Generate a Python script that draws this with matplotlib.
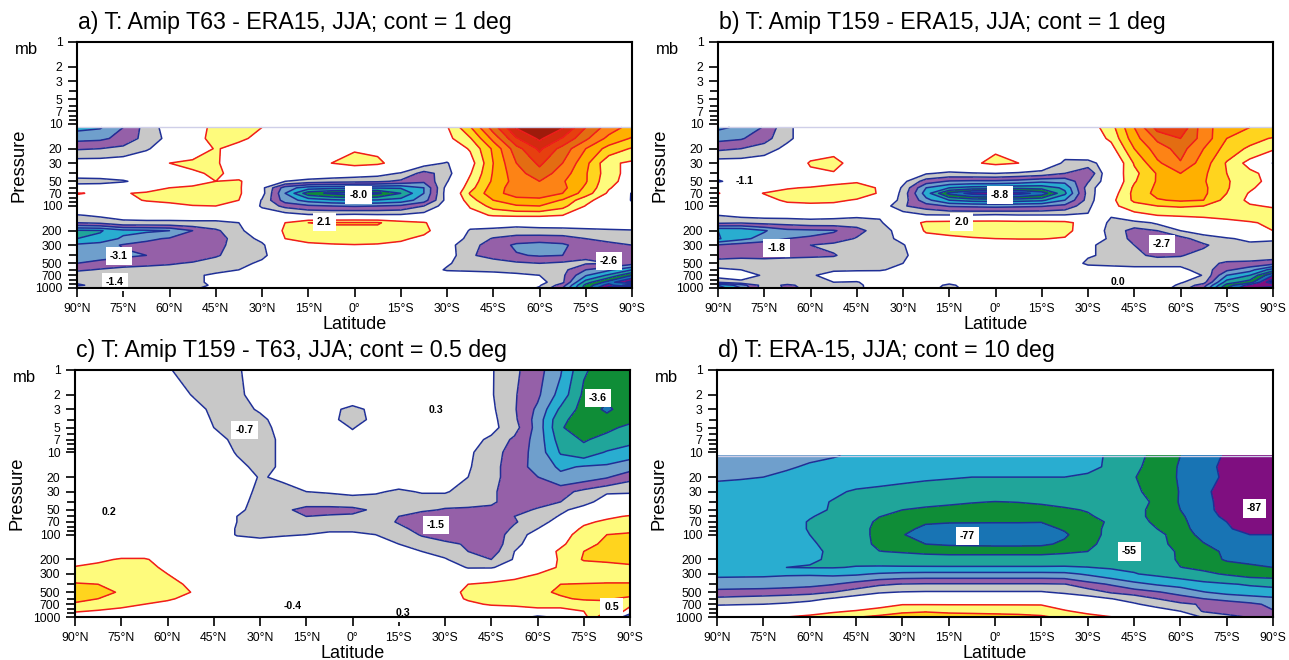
import matplotlib
matplotlib.use('Agg')
import matplotlib.pyplot as plt
from matplotlib.ticker import FixedLocator, NullFormatter
import numpy as np

plt.rcParams['font.family'] = ['Liberation Sans', 'DejaVu Sans']

W, H = 1289, 660

lats = [90, 82.5, 75, 67.5, 60, 52.5, 45, 37.5, 30, 22.5, 15, 7.5, 0, -7.5, -15, -22.5, -30, -37.5, -45, -52.5, -60, -67.5, -75, -82.5, -90]
lat_ticks = [90, 75, 60, 45, 30, 15, 0, -15, -30, -45, -60, -75, -90]
lat_labels = ['90°N', '75°N', '60°N', '45°N', '30°N', '15°N', '0°', '15°S', '30°S', '45°S', '60°S', '75°S', '90°S']
p_ticks = [1, 2, 3, 5, 7, 10, 20, 30, 50, 70, 100, 200, 300, 500, 700, 1000]
p_minor = [4, 6, 8, 9, 40, 60, 80, 90, 400, 600, 800, 900]

p_ab = [11, 15, 20, 30, 40, 50, 60, 70, 85, 100, 130, 160, 200, 250, 300, 400, 500, 600, 700, 850, 925, 1000]
p_c = [1, 2, 3, 4, 5, 7, 10, 15, 20, 30, 40, 50, 60, 70, 85, 100, 130, 160, 200, 250, 300, 400, 500, 600, 700, 850, 1000]
p_d = [11, 15, 20, 30, 40, 50, 60, 70, 85, 100, 130, 160, 200, 250, 300, 400, 500, 600, 700, 850, 1000]

t_a = [
    [-4.3, -4.1, -3.0, -1.6, -0.5, 0.3, 1.4, 1.5, 1.0, 0.5, 0.3, 0.3, 0.3, 0.3, 0.3, 0.4, 0.9, 2.9, 5.5, 8.1, 8.6, 8.1, 6.0, 4.5, 3.6],
    [-3.3, -3.2, -2.7, -1.6, -0.7, 0.4, 1.5, 1.2, 0.7, 0.4, 0.3, 0.3, 0.3, 0.3, 0.3, 0.4, 0.7, 1.9, 4.3, 6.9, 8.2, 6.9, 5.2, 3.7, 2.9],
    [-2.1, -2.0, -1.7, -1.1, -0.5, 0.2, 1.1, 0.6, 0.4, 0.3, 0.3, 0.5, 0.9, 0.8, 0.4, 0.2, 0.2, 1.1, 3.2, 5.6, 7.2, 5.6, 4.0, 2.6, 1.9],
    [-0.4, -0.4, -0.3, -0.2, 1.0, 1.3, 1.1, 0.5, 0.3, 0.2, 0.2, 1.0, 1.4, 1.2, 0.5, -0.5, -1.1, 0.5, 3.0, 5.0, 6.2, 5.0, 3.3, 1.2, 0.8],
    [-0.6, -0.5, -0.4, -0.2, 0.2, 0.8, 1.2, 0.6, 0.2, 0.1, 0.0, -0.2, -0.4, -0.6, -1.1, -2.4, -1.5, 0.9, 3.1, 4.6, 5.6, 4.5, 3.1, 1.4, 0.6],
    [-1.3, -1.3, -1.1, -0.6, -0.2, 0.3, 1.0, 1.1, 0.3, -1.0, -1.4, -1.6, -1.7, -1.8, -2.2, -2.8, -1.1, 1.3, 3.2, 4.4, 5.0, 4.1, 3.1, 1.2, 0.7],
    [-0.5, -0.4, -0.1, 0.3, 1.0, 1.3, 1.4, 1.2, -0.7, -3.5, -4.5, -4.7, -4.8, -4.9, -4.9, -4.0, -0.6, 1.6, 3.5, 4.5, 4.9, 4.3, 2.8, 1.1, 0.2],
    [1.1, 0.8, 0.9, 1.2, 1.5, 1.6, 1.5, 1.2, -0.6, -4.0, -6.6, -7.2, -7.6, -7.2, -6.0, -4.0, -0.5, 2.1, 3.6, 4.5, 4.6, 4.0, 2.5, 0.8, -1.1],
    [0.4, 0.3, 0.6, 1.1, 1.3, 1.4, 1.3, 1.0, -1.1, -3.5, -4.4, -4.8, -5.0, -4.9, -4.6, -3.5, -0.6, 1.6, 3.0, 3.6, 3.7, 2.9, 1.3, 0.4, -1.1],
    [0.3, 0.2, 0.2, 0.3, 0.6, 0.95, 1.0, 0.8, -1.2, -2.3, -2.8, -3.0, -3.1, -3.0, -2.8, -2.0, -0.4, 1.1, 2.4, 2.9, 3.0, 2.3, 0.95, 0.3, -0.7],
    [-1.1, -0.8, -0.7, -0.6, -0.6, -0.5, -0.5, -0.3, 0.0, -0.4, -0.8, -0.8, -0.7, -0.8, -0.8, -0.5, 0.0, 0.6, 1.1, 1.2, 1.2, 1.0, 0.5, 0.1, 0.0],
    [-2.0, -1.8, -1.2, -1.2, -1.2, -1.2, -1.2, -1.0, -0.2, 1.0, 2.0, 2.1, 2.1, 2.1, 1.5, 1.1, 0.2, -0.6, -0.6, -0.5, -0.4, -0.3, -0.2, -0.1, -0.1],
    [-5.2, -5.1, -4.3, -4.2, -4.0, -3.0, -2.2, -1.2, -0.3, 1.2, 1.6, 1.7, 1.7, 1.7, 1.6, 1.3, 0.2, -1.1, -1.2, -1.5, -1.4, -1.4, -1.3, -1.2, -1.1],
    [-5.0, -4.7, -3.8, -3.2, -2.9, -2.6, -2.4, -1.6, -0.7, 1.0, 1.3, 1.4, 1.5, 1.4, 1.2, 0.7, -0.5, -1.2, -2.1, -2.4, -2.5, -2.4, -2.0, -1.8, -1.7],
    [-3.8, -3.5, -2.9, -2.7, -2.6, -2.6, -2.3, -1.6, -1.2, 0.5, 0.8, 0.9, 0.95, 0.9, 0.7, 0.2, -0.6, -1.7, -2.4, -3.2, -3.4, -3.2, -2.4, -2.2, -2.0],
    [-3.5, -3.4, -3.2, -3.0, -2.7, -2.5, -2.1, -1.6, -1.2, -0.3, 0.2, 0.2, 0.2, 0.2, 0.2, 0.0, -0.4, -1.9, -2.3, -2.9, -3.1, -3.0, -2.1, -2.1, -2.1],
    [-3.0, -2.7, -2.4, -2.2, -2.1, -1.9, -1.6, -1.3, -0.8, -0.2, 0.1, 0.1, 0.1, 0.1, 0.1, -0.3, -0.9, -1.4, -1.6, -1.8, -2.0, -1.8, -1.9, -2.0, -2.6],
    [-2.2, -1.9, -1.7, -1.7, -1.6, -1.5, -1.3, -1.0, -0.6, -0.1, 0.1, 0.1, 0.1, 0.1, 0.1, -0.5, -1.1, -1.2, -1.3, -1.5, -1.6, -1.7, -3.0, -3.8, -5.0],
    [-1.3, -1.3, -1.3, -1.3, -1.3, -1.2, -0.8, -0.5, -0.3, 0.0, 0.1, 0.1, 0.1, 0.1, 0.1, 0.1, -0.4, -0.4, -0.5, -0.7, -1.0, -1.8, -3.9, -5.2, -7.0],
    [-1.9, -1.7, -1.4, -1.7, -1.2, -1.1, -0.9, -0.2, -0.1, 0.0, 0.0, 0.0, 0.0, 0.0, 0.0, 0.0, -0.1, -0.1, -0.2, -0.3, -0.6, -1.8, -5.5, -7.5, -9.5],
    [-2.1, -1.8, -1.5, -2.0, -1.4, -1.2, -0.9, -0.1, 0.0, 0.0, 0.0, 0.0, 0.0, 0.0, 0.0, 0.0, 0.0, 0.0, -0.2, -0.4, -0.9, -2.5, -6.3, -8.5, -6.0],
    [-1.6, -1.4, -1.2, -1.4, -1.2, -1.1, -0.8, 0.0, 0.0, 0.0, 0.0, 0.0, 0.0, 0.0, 0.0, 0.0, 0.0, 0.0, -0.2, -0.5, -1.1, -3.0, -6.5, -9.5, -10.0],
]

t_b = [
    [-4.2, -3.8, -2.9, -1.2, -0.4, -0.2, 0.0, 0.1, 0.1, 0.1, 0.1, 0.1, 0.1, 0.1, 0.1, 0.2, 0.4, 1.6, 4.0, 6.4, 6.8, 4.4, 3.4, 3.0, 3.0],
    [-3.3, -3.1, -2.4, -1.2, -0.4, -0.2, 0.0, 0.1, 0.1, 0.1, 0.1, 0.1, 0.1, 0.1, 0.1, 0.2, 0.3, 1.2, 3.6, 5.2, 6.0, 4.6, 3.0, 2.4, 1.9],
    [-2.2, -2.0, -1.5, -0.7, 0.3, 0.6, 0.0, 0.0, 0.0, 0.0, 0.1, 0.3, 0.85, 0.3, 0.1, -0.5, 0.2, 0.6, 3.0, 4.5, 5.4, 4.0, 2.6, 1.8, 1.2],
    [-0.4, -0.4, -0.3, -0.2, 1.15, 1.4, 0.4, 0.0, 0.0, 0.0, 0.1, 0.8, 1.3, 1.0, 0.0, -1.2, -1.4, -0.3, 2.1, 3.8, 4.9, 3.5, 1.9, 0.6, -1.05],
    [-0.4, -0.4, -0.3, -0.2, 0.7, 0.9, 0.2, 0.0, -0.1, -0.9, -1.2, -1.1, -1.0, -1.2, -1.4, -2.0, -2.9, 0.2, 1.7, 3.1, 4.0, 3.2, 2.0, 1.3, 0.5],
    [-1.15, -0.4, -0.3, 0.0, 0.2, 0.7, 0.9, 0.3, -0.7, -2.5, -3.1, -3.2, -3.2, -3.4, -3.8, -3.7, -2.1, -0.1, 1.9, 3.1, 3.6, 3.1, 2.1, 1.4, 0.6],
    [0.2, 0.1, 0.4, 0.9, 1.1, 1.3, 1.4, 0.9, -1.2, -4.0, -5.0, -5.4, -5.5, -5.7, -5.6, -4.8, -1.5, 0.1, 2.2, 3.2, 3.5, 3.2, 2.1, 1.2, 0.3],
    [1.05, 0.4, 1.05, 1.4, 1.5, 1.7, 1.5, 0.9, -1.4, -4.5, -7.3, -8.4, -8.7, -8.4, -7.6, -5.2, -1.6, 0.4, 2.3, 3.3, 3.5, 3.2, 2.0, 0.9, 0.1],
    [0.2, 0.2, 0.6, 1.2, 1.2, 1.2, 0.9, 0.5, -1.5, -3.7, -5.0, -5.4, -5.5, -5.4, -5.2, -4.0, -1.6, 0.7, 2.2, 2.9, 3.15, 3.0, 1.6, 0.8, 0.2],
    [0.1, 0.1, 0.2, 0.6, 0.8, 0.7, 0.4, -0.2, -1.9, -2.5, -3.1, -3.2, -3.3, -3.2, -3.1, -2.7, -1.3, 0.7, 1.6, 2.0, 2.1, 2.0, 1.4, 1.1, 0.9],
    [-1.0, -0.7, -0.6, -0.6, -0.6, -0.7, -0.8, -0.9, -0.3, -0.9, -0.9, -0.9, -0.8, -0.9, -0.9, -0.9, -0.9, -0.9, 0.6, 1.0, 1.2, 1.3, 1.4, 1.5, 1.5],
    [-1.8, -1.9, -1.7, -1.6, -1.4, -1.4, -1.5, -1.1, -0.3, 1.4, 1.5, 1.6, 1.6, 1.5, 1.5, 1.4, 0.3, -1.3, -1.5, -0.8, -0.5, 0.1, 0.6, 0.9, 1.2],
    [-5.0, -4.9, -4.1, -3.3, -3.2, -3.1, -2.4, -1.4, -0.6, 1.2, 1.4, 1.5, 1.5, 1.5, 1.5, 1.4, 0.2, -1.5, -2.3, -2.0, -1.0, -0.6, -0.2, 0.5, 1.0],
    [-5.1, -4.3, -3.6, -3.0, -2.9, -2.6, -1.9, -1.3, -0.8, 0.4, 0.7, 0.9, 1.0, 1.05, 1.05, 0.9, 0.1, -1.3, -2.3, -2.6, -2.4, -1.4, -1.1, -0.8, -0.9],
    [-2.9, -2.5, -2.3, -2.3, -2.0, -1.7, -1.5, -1.2, -1.05, -0.4, 0.1, 0.2, 0.2, 0.2, 0.2, -0.2, -0.9, -1.2, -2.0, -2.7, -2.8, -2.2, -1.3, -1.2, -1.2],
    [-2.4, -2.3, -2.4, -2.3, -2.2, -2.1, -1.4, -1.3, -1.2, -0.3, 0.0, 0.1, 0.1, 0.1, 0.0, -0.3, -0.9, -1.2, -1.8, -2.2, -2.1, -1.5, -1.3, -1.3, -1.4],
    [-1.5, -1.4, -1.4, -1.3, -1.3, -1.3, -1.2, -1.15, -1.0, -0.2, 0.0, 0.0, 0.0, 0.0, 0.0, -0.3, -1.2, -1.3, -1.3, -1.3, -1.3, -1.6, -2.2, -2.3, -2.6],
    [-0.8, -1.0, -1.2, -1.1, -1.1, -1.1, -1.1, -1.1, -0.7, -0.1, 0.0, 0.0, 0.0, 0.0, 0.0, -0.1, -0.4, -0.5, -0.7, -0.7, -0.7, -1.5, -2.8, -3.6, -5.5],
    [-0.5, -0.6, -1.1, -1.2, -1.1, -0.7, -0.5, -0.4, -0.2, 0.0, 0.0, 0.0, 0.0, 0.0, 0.0, 0.0, -0.1, -0.2, -0.3, -0.4, -0.5, -1.05, -4.0, -5.0, -8.0],
    [-1.9, -1.2, -1.1, -1.4, -1.1, -1.0, -1.05, -0.6, -0.1, -0.2, -0.7, -0.2, 0.0, 0.0, 0.0, 0.0, -0.1, -0.1, -0.1, -0.2, -0.9, -1.6, -5.5, -6.5, -10.0],
    [-5.0, -3.5, -1.5, -2.2, -1.6, -1.2, -1.2, -0.5, -0.1, -0.5, -1.2, -0.5, 0.0, 0.0, 0.0, 0.0, -0.1, -0.1, -0.1, -0.3, -1.2, -2.5, -6.4, -8.5, -8.0],
    [-5.5, -4.0, -1.3, -2.2, -1.8, -1.3, -1.3, -0.3, -0.1, -0.6, -1.3, -0.6, 0.0, 0.0, 0.0, 0.0, 0.0, 0.0, -0.1, -0.4, -1.4, -3.0, -7.0, -8.9, -10.0],
]

t_c = [
    [0.1, 0.1, 0.1, 0.2, -0.45, -0.7, -0.8, -0.55, -0.3, -0.2, -0.1, 0.0, 0.0, 0.0, -0.1, -0.1, -0.2, -0.3, -0.45, -0.9, -1.3, -1.95, -2.95, -3.2, -3.3],
    [0.1, 0.1, 0.1, 0.2, -0.3, -0.5, -0.8, -0.6, -0.3, -0.2, -0.1, 0.0, 0.0, 0.0, 0.0, 0.1, 0.0, -0.2, -0.45, -0.95, -1.4, -2.2, -3.1, -3.4, -3.3],
    [0.1, 0.1, 0.1, 0.1, -0.1, -0.3, -0.6, -0.65, -0.45, -0.2, -0.1, -0.3, -0.7, -0.3, -0.1, 0.2, 0.0, -0.2, -0.4, -0.95, -1.6, -2.6, -3.2, -3.6, -3.2],
    [0.1, 0.1, 0.1, 0.1, 0.0, -0.2, -0.55, -0.8, -0.6, -0.3, -0.1, -0.3, -0.8, -0.3, -0.1, 0.2, 0.0, -0.2, -0.35, -0.9, -1.7, -2.9, -3.2, -3.3, -3.1],
    [0.1, 0.1, 0.1, 0.1, 0.0, -0.1, -0.5, -0.8, -0.7, -0.3, -0.1, -0.1, -0.55, -0.1, 0.0, 0.2, 0.0, -0.2, -0.35, -0.8, -1.7, -2.95, -3.3, -3.1, -2.9],
    [0.1, 0.1, 0.1, 0.1, 0.0, -0.1, -0.2, -0.7, -0.7, -0.4, -0.1, 0.0, -0.2, 0.0, 0.0, 0.1, 0.0, -0.3, -0.6, -1.1, -1.7, -2.75, -3.05, -2.85, -2.7],
    [0.2, 0.2, 0.1, 0.1, 0.1, 0.0, -0.1, -0.55, -0.7, -0.4, -0.1, 0.0, 0.0, 0.0, 0.0, 0.1, -0.1, -0.4, -0.8, -1.2, -1.7, -2.55, -2.8, -2.45, -2.2],
    [0.2, 0.2, 0.2, 0.1, 0.1, 0.0, -0.1, -0.3, -0.7, -0.4, -0.1, 0.0, 0.0, 0.0, 0.0, 0.0, -0.2, -0.45, -0.8, -1.3, -1.65, -2.1, -1.95, -1.9, -1.75],
    [0.2, 0.2, 0.2, 0.2, 0.1, 0.1, 0.0, -0.1, -0.55, -0.4, -0.3, -0.1, 0.0, -0.1, -0.1, -0.1, -0.3, -0.5, -0.8, -1.3, -1.49, -1.85, -1.75, -1.55, -1.15],
    [0.2, 0.2, 0.2, 0.2, 0.1, 0.1, 0.0, -0.1, -0.7, -0.7, -0.5, -0.45, -0.4, -0.42, -0.6, -0.45, -0.45, -0.7, -0.9, -1.3, -1.4, -1.2, -0.85, -0.55, -0.55],
    [0.2, 0.2, 0.2, 0.2, 0.1, 0.1, 0.0, -0.2, -0.8, -0.9, -0.8, -0.8, -0.7, -0.8, -0.8, -0.8, -0.8, -0.8, -0.9, -1.3, -1.3, -1.0, -0.65, -0.3, -0.2],
    [0.2, 0.2, 0.2, 0.2, 0.1, 0.1, 0.0, -0.3, -0.85, -0.9, -1.15, -1.15, -1.15, -0.9, -0.85, -0.9, -1.05, -1.1, -1.15, -1.3, -0.9, -0.6, -0.3, -0.1, 0.2],
    [0.2, 0.2, 0.2, 0.2, 0.1, 0.1, 0.0, -0.5, -0.8, -0.9, -1.0, -0.95, -0.9, -0.85, -1.0, -1.3, -1.35, -1.4, -1.4, -1.0, -0.8, -0.45, -0.1, 0.4, 0.55],
    [0.2, 0.2, 0.2, 0.2, 0.1, 0.1, 0.0, -0.5, -0.8, -0.8, -0.75, -0.75, -0.75, -0.75, -1.05, -1.4, -1.45, -1.45, -1.45, -1.05, -0.7, -0.3, 0.4, 0.6, 0.7],
    [0.2, 0.2, 0.2, 0.2, 0.1, 0.1, 0.0, -0.55, -0.7, -0.65, -0.6, -0.55, -0.55, -0.6, -0.85, -1.2, -1.4, -1.45, -1.4, -0.9, -0.5, 0.1, 0.6, 0.8, 0.9],
    [0.2, 0.2, 0.2, 0.2, 0.1, 0.1, 0.0, -0.55, -0.6, -0.55, -0.5, -0.45, -0.45, -0.5, -0.7, -1.05, -1.2, -1.4, -1.35, -0.75, -0.3, 0.3, 0.7, 1.0, 1.05],
    [0.1, 0.1, 0.1, 0.1, 0.1, 0.0, 0.0, -0.1, -0.3, -0.2, -0.2, -0.2, -0.2, -0.3, -0.5, -0.7, -0.9, -1.05, -1.3, -0.7, -0.1, 0.4, 0.85, 1.1, 1.2],
    [0.1, 0.2, 0.2, 0.2, 0.1, 0.0, 0.0, 0.0, 0.0, 0.0, 0.0, 0.0, 0.0, 0.0, -0.2, -0.5, -0.7, -1.0, -1.25, -0.5, 0.1, 0.6, 1.0, 1.1, 1.2],
    [0.2, 0.4, 0.55, 0.55, 0.3, 0.1, 0.0, 0.0, 0.0, 0.0, 0.0, 0.0, 0.0, 0.0, 0.0, -0.2, -0.45, -0.85, -1.0, -0.45, 0.2, 0.55, 1.05, 1.1, 1.15],
    [0.55, 0.65, 0.7, 0.65, 0.4, 0.1, 0.0, 0.0, 0.0, 0.0, 0.0, 0.0, 0.0, 0.0, 0.0, 0.0, -0.1, -0.55, -0.55, -0.2, 0.3, 0.55, 0.7, 0.8, 0.9],
    [0.7, 0.7, 0.75, 0.7, 0.5, 0.1, 0.0, 0.0, 0.0, 0.0, 0.0, 0.0, 0.0, 0.0, 0.0, 0.0, 0.0, 0.0, 0.1, 0.35, 0.5, 0.6, 0.65, 0.7, 0.7],
    [1.05, 1.0, 0.8, 0.7, 0.6, 0.45, 0.1, 0.0, 0.0, 0.0, 0.0, 0.0, 0.0, 0.0, 0.0, 0.0, 0.2, 0.5, 0.6, 0.65, 0.8, 1.0, 1.03, 1.05, 1.05],
    [1.2, 1.15, 0.95, 0.8, 0.7, 0.5, 0.1, 0.0, 0.0, 0.0, 0.0, 0.0, 0.0, 0.0, 0.0, 0.0, 0.3, 0.6, 0.7, 0.75, 0.85, 1.1, 1.2, 1.25, 1.2],
    [1.1, 1.0, 0.75, 0.65, 0.55, 0.4, 0.1, 0.0, 0.0, 0.0, 0.0, 0.0, 0.0, 0.0, 0.0, 0.0, 0.3, 0.55, 0.65, 0.7, 0.8, 0.9, 1.1, 1.05, 0.9],
    [0.95, 0.8, 0.6, 0.5, 0.4, 0.2, 0.0, 0.0, 0.0, 0.0, 0.0, 0.0, 0.0, 0.0, 0.0, 0.0, 0.2, 0.4, 0.55, 0.6, 0.6, 0.6, 0.6, 0.9, 0.6],
    [0.55, 0.45, 0.4, 0.3, 0.2, 0.1, 0.0, 0.0, 0.0, 0.0, 0.0, 0.0, 0.0, 0.0, 0.0, 0.0, 0.0, 0.1, 0.15, 0.2, 0.4, 0.4, 0.5, 1.0, 0.3],
    [0.2, 0.1, 0.1, 0.1, 0.0, 0.0, -0.1, 0.0, 0.0, 0.0, 0.0, 0.0, 0.0, 0.0, 0.0, 0.0, 0.0, 0.0, 0.0, 0.0, -0.7, -0.3, 0.3, 1.5, -1.5],
]

t_d = [
    [-33, -35, -36, -37, -38.5, -39.5, -41, -43, -44, -45, -45, -45, -45, -45, -45, -46, -48, -51, -57, -63, -70, -75, -81.5, -85, -86],
    [-36, -36.5, -37.5, -39, -41, -42.5, -43, -44, -45, -45, -45, -46, -46, -46, -46, -46, -47, -52, -58, -64, -71, -76, -83, -86, -87],
    [-39, -39.5, -40, -42, -43.5, -45, -46, -47, -48, -49, -49.5, -50, -50, -50, -50, -50, -52, -55, -59.5, -65, -71, -76, -82, -86, -87],
    [-43, -43, -44, -45, -46, -48.5, -51, -52, -53, -53.5, -54, -54.5, -55, -55, -55, -55, -55, -56, -58, -64, -70.5, -78, -84, -87, -88],
    [-43, -44, -45, -46, -47.5, -50.5, -53, -55, -56.5, -57.5, -58.5, -59.5, -60.2, -59.8, -59, -58, -57, -56, -58, -61, -71, -77, -84, -87, -88],
    [-43, -44, -45, -46.5, -48.5, -50.5, -53, -56, -60, -61.5, -62.5, -63.5, -64, -63.5, -62.5, -61, -59.5, -57, -58, -62, -70, -77, -83.5, -87.5, -88.5],
    [-44, -45, -46, -47, -49.5, -52, -55.5, -59.8, -62, -64, -65, -66, -66.5, -66.5, -66, -64, -61, -57.5, -58, -62, -68.5, -76, -82, -87, -88],
    [-44, -45, -46, -47, -50.5, -52, -56, -61.5, -65, -69, -69.5, -69.5, -69.5, -69.5, -69.8, -66, -62.5, -59, -58, -61, -68, -74.5, -80, -85, -87],
    [-44, -45, -46, -47, -50.5, -52.5, -57, -62, -67.5, -72, -73, -73.5, -74, -74, -73, -69, -63, -58, -57, -60, -67, -74, -79, -83, -85],
    [-44, -45, -46, -47, -50, -52.5, -57, -62, -69.5, -74, -76, -76.5, -77, -76.5, -75.5, -71.5, -63.5, -57.5, -55.5, -56.5, -66, -72.5, -77, -80, -80],
    [-44, -45, -46, -47, -49, -52, -56, -62, -66, -70, -71.5, -72, -72.5, -72.5, -72, -68, -62.5, -56, -54, -56.5, -64, -69.5, -74, -77, -78],
    [-44, -45, -46, -47, -48, -51.5, -54, -59.8, -60.8, -62, -62.5, -62.5, -62.5, -62.5, -62.5, -61.5, -60, -56, -53, -54, -62, -67, -71.5, -74, -75],
    [-43, -44, -45, -46, -49, -51, -52.5, -54, -55, -55.5, -56, -56, -56, -56, -56, -55, -54, -52.5, -52, -53, -62, -66, -71, -72, -73],
    [-42, -42, -43, -50, -50.5, -50.5, -49.5, -49, -49, -49, -49, -49, -49, -49, -49, -49, -49.8, -51, -51.5, -52, -59.8, -62, -66, -68.5, -70],
    [-41.5, -41.5, -41.5, -41, -41, -42, -41.5, -39, -37.5, -37, -37, -37, -37, -37, -37, -37.5, -41.5, -46, -49.5, -52, -55, -58, -61, -64, -65],
    [-36.5, -36, -35.5, -34.5, -33, -30.5, -26, -21.5, -19.5, -19, -19, -19, -19, -19, -19, -19.5, -26, -31, -37, -41, -43.5, -47, -49, -51, -52],
    [-26, -25.5, -25, -24, -23, -20, -15, -11, -9.5, -9, -9, -9, -9, -9, -9, -12, -14.5, -21, -25, -29, -34, -39.5, -43, -45, -46.5],
    [-18, -17, -16, -15, -13, -9, -5, -2, 0, 1, 1, 1, 1, 1, 1, -1, -6, -9.8, -13, -20, -25, -30, -33, -35.5, -38],
    [-11, -10.5, -10, -8.5, -6, -3, 1, 5, 9.5, 9.5, 9.5, 9.5, 9.5, 9.5, 9.5, 3, -3, -8, -9, -13, -18, -21, -25, -28, -32],
    [-3, -2, -1, 1, 4, 8, 11, 15, 18, 19, 17, 16.5, 16, 15.5, 14.5, 11.5, 6, 1, -3, -6, -10, -21, -25, -27, -29.5],
    [1, 4, 6, 10, 13, 17, 19.5, 22, 25, 27, 27, 26, 25, 24, 22, 17, 15, 10.5, 6, 2, -6, -10.5, -16, -21, -22],
]

# text of the value labels on each panel
labels_a = ['-8.0', '2.1', '-3.1', '-1.4', '-2.6']
labels_b = ['-1.1', '-8.8', '2.0', '-1.8', '0.0', '-2.7']
labels_c = ['-0.7', '0.3', '-3.6', '0.2', '-1.5', '-0.4', '0.3', '0.5']
labels_d = ['-87', '-77', '-55']

label_pos_a = [(-1.3, 73), (9.8, 157), (76.4, 411), (77.7, 853), (-82.5, 473)]
label_pos_b = [(81.3, 50), (-1.5, 73), (10.9, 158), (71, 323), (-39.6, 853), (-54, 290)]
label_pos_c = [(35, 5.3), (-27, 3.1), (-79.5, 2.2), (79, 53), (-27, 76), (19.5, 735), (-16.5, 885), (-84, 748)]
label_pos_d = [(-84, 48), (9, 104), (-43.5, 160)]

titles = ['a) T: Amip T63 - ERA15, JJA; cont = 1 deg',
          'b) T: Amip T159 - ERA15, JJA; cont = 1 deg',
          'c) T: Amip T159 - T63, JJA; cont = 0.5 deg',
          'd) T: ERA-15, JJA; cont = 10 deg']

colors = ['#14208a', '#7f0f80', '#1874b4', '#0f8d37', '#20a59a', '#29add0', '#6f9fcc', '#9560a8', '#c8c8c8',
          '#ffffff', '#fefb7c', '#ffd41e', '#ffb000', '#fd8315', '#e36d12', '#e6400f', '#d42a10', '#9e1b0b']
base = np.array([-9, -8, -7, -6, -5, -4, -3, -2, -1, 1, 2, 3, 4, 5, 6, 7, 8], dtype=float)


def panel(box, press, grid, step, title, labels, label_pos):
    l, t, r, b = box
    ax = fig.add_axes([l / W, 1 - b / H, (r - l) / W, (b - t) / H])
    lev = base * step
    data = np.array(grid, dtype=float)
    ax.contourf(lats, press, data, levels=lev, colors=colors, extend='both')
    line_col = ['#1f2f96' if v < 0 else '#f01c1c' for v in lev]
    ax.contour(lats, press, data, levels=lev, colors=line_col, linewidths=1.1, linestyles='solid')
    if press[0] > 1:
        ax.axhline(press[0], color='#cfcfe8', lw=1)
    ax.set_yscale('log')
    ax.set_xlim(90, -90)
    ax.set_ylim(1000, 1)
    ax.set_xticks(lat_ticks)
    ax.set_xticklabels(lat_labels)
    ax.yaxis.set_major_locator(FixedLocator(p_ticks))
    ax.yaxis.set_major_formatter(plt.FixedFormatter([str(p) for p in p_ticks]))
    ax.yaxis.set_minor_locator(FixedLocator(p_minor))
    ax.yaxis.set_minor_formatter(NullFormatter())
    ax.tick_params(axis='both', which='major', length=6.5, width=1.2, labelsize=8.8, pad=4)
    ax.tick_params(axis='y', which='minor', length=6, width=1.2)
    for s in ax.spines.values():
        s.set_linewidth(1.5)
    ax.set_xlabel('Latitude', fontsize=13, va='center')
    ax.xaxis.set_label_coords(0.5, -37 / (b - t))
    ax.set_ylabel('Pressure', fontsize=13.2, va='center')
    ax.yaxis.set_label_coords(-58 / (r - l), 0.5)
    fig.text((l - 62) / W, 1 - (t + 8) / H, 'mb', fontsize=12, ha='left', va='center')
    fig.text((l + 1) / W, 1 - (t - 13) / H, title, fontsize=16.7, ha='left', va='baseline')
    for s, (x, y) in zip(labels, label_pos):
        ax.text(x, y, s, fontsize=7.6, fontweight='bold', ha='center', va='center', zorder=2.4,
                bbox=dict(fc='white', ec='none', pad=3))


fig = plt.figure(figsize=(W / 100, H / 100), dpi=100)
panel((77, 42, 632, 288), p_ab, t_a, 1, titles[0], labels_a, label_pos_a)
panel((718, 42, 1273, 288), p_ab, t_b, 1, titles[1], labels_b, label_pos_b)
panel((75, 370, 630, 617), p_c, t_c, 0.5, titles[2], labels_c, label_pos_c)
panel((717, 370, 1273, 617), p_d, t_d, 10, titles[3], labels_d, label_pos_d)
fig.savefig('out.png', dpi=100)
